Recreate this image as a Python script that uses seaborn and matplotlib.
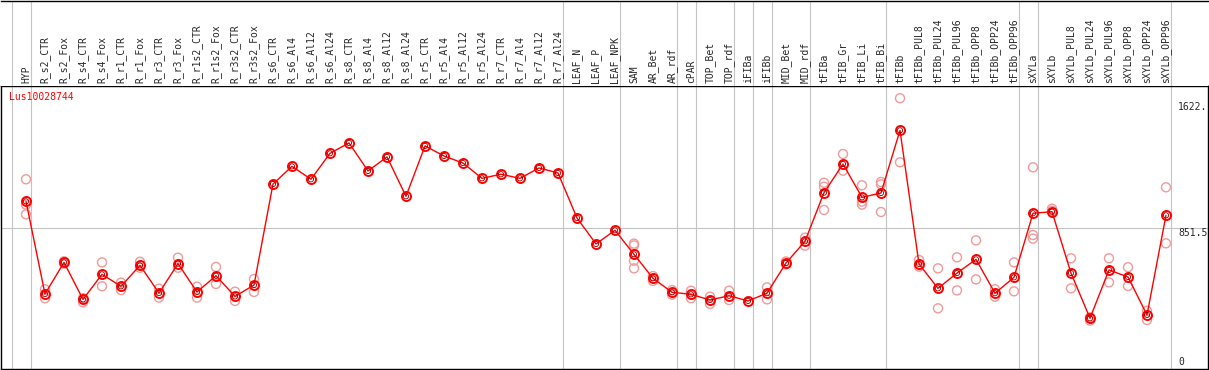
import numpy as np
import pandas as pd
import matplotlib
matplotlib.use("Agg")
import matplotlib.pyplot as plt
import seaborn as sns

# sample names along the top
categories = [
    "HYP", "R_s2_CTR", "R_s2_Fox", "R_s4_CTR", "R_s4_Fox", "R_r1_CTR", "R_r1_Fox",
    "R_r3_CTR", "R_r3_Fox", "R_r1s2_CTR", "R_r1s2_Fox", "R_r3s2_CTR", "R_r3s2_Fox",
    "R_s6_CTR", "R_s6_Al4", "R_s6_Al12", "R_s6_Al24", "R_s8_CTR", "R_s8_Al4",
    "R_s8_Al12", "R_s8_Al24", "R_r5_CTR", "R_r5_Al4", "R_r5_Al12", "R_r5_Al24",
    "R_r7_CTR", "R_r7_Al4", "R_r7_Al12", "R_r7_Al24", "LEAF_N", "LEAF_P", "LEAF_NPK",
    "SAM", "AR_Bet", "AR_rdf", "cPAR", "TOP_Bet", "TOP_rdf", "iFIBa", "iFIBb",
    "MID_Bet", "MID_rdf", "tFIBa", "tFIB_Gr", "tFIB_Li", "tFIB_Bi", "tFIBb",
    "tFIBb_PUL8", "tFIBb_PUL24", "tFIBb_PUL96", "tFIBb_OPP8", "tFIBb_OPP24",
    "tFIBb_OPP96", "sXYLa", "sXYLb", "sXYLb_PUL8", "sXYLb_PUL24", "sXYLb_PUL96",
    "sXYLb_OPP8", "sXYLb_OPP24", "sXYLb_OPP96"]

# mean expression per sample
means = [1021, 432, 633, 398, 557, 481, 614, 438, 625, 445, 548, 417, 489,
         1131, 1243, 1161, 1326, 1392, 1214, 1303, 1053, 1373, 1309, 1264, 1167,
         1193, 1167, 1233, 1201, 915, 750, 837,
         684, 532, 443, 430, 394, 421, 388, 437, 629, 767,
         1076, 1258, 1046, 1074, 1472,
         623, 468, 565, 652, 437, 538,
         945, 955, 565, 278, 585, 540, 299, 932]

# replicate values (same order as categories)
replicates = [
    [1161, 1000, 938], [462, 405], [640, 625], [405, 379], [633, 481], [504, 457],
    [637, 599], [466, 409], [663, 599], [479, 409], [604, 496], [447, 388], [527, 445],
    [], [], [], [], [], [], [], [], [], [], [], [], [], [], [], [],
    [], [], [],
    [752, 741, 644, 595], [546, 515], [457, 428], [453, 405], [415, 369], [453, 394],
    [], [474, 398], [639, 620], [790, 739],
    [1139, 1114, 966], [1322, 1216], [1123, 1019, 1000], [1144, 1129, 953], [1676, 1269],
    [648, 606], [595, 341], [665, 455], [773, 525], [462, 415], [633, 449],
    [1237, 807, 784], [974, 961], [659, 468], [284, 263], [659, 506], [602, 483],
    [326, 267], [1110, 754]]

# group separators come after these sample indices
group_ends = [-1, 0, 28, 31, 34, 35, 37, 38, 39, 41, 45, 52, 53, 60]
gene = "Lus10028744"
yticks = [0, 851.5, 1622]
ytick_labels = ["0", "851.5", "1622."]

sns.set_style("white")
plt.rcParams["font.family"] = ["DejaVu Sans Mono"]

W, H = 1209, 370
fig = plt.figure(figsize=(W / 100, H / 100), dpi=100)

def px_x(p):
    return (p - 26) / 19.0

def px_y(p):
    return (362 - p) * 6.354

xlim = (px_x(1), px_x(1208))
ax = fig.add_axes([1 / W, 1 / H, 1207 / W, 283 / H])
axh = fig.add_axes([1 / W, 284 / H, 1207 / W, 85.5 / H])

grid_c = "#c4c4c4"
for a in (ax, axh):
    a.set_xlim(*xlim)
    a.set_xticks([])
    a.set_yticks([])
    for b in group_ends:
        a.axvline(b + 0.26, color=grid_c, lw=0.8, zorder=0)
    for s in a.spines.values():
        s.set_color("black")
        s.set_linewidth(1.0)

axh.set_ylim(0, 1)
axh.spines["left"].set_visible(False)
axh.spines["right"].set_visible(False)
axh.spines["bottom"].set_visible(False)
for i, name in enumerate(categories):
    axh.text(i, 0.03, name, rotation=90, ha="center", va="bottom", fontsize=7)

ax.set_ylim(px_y(369), px_y(86))
ax.axhline(851.5, color=grid_c, lw=0.8, zorder=0)

xs = np.arange(len(categories))
rep_df = pd.DataFrame([(i, v) for i, vals in enumerate(replicates) for v in vals],
                      columns=["x", "value"])
sns.scatterplot(data=rep_df, x="x", y="value", ax=ax, marker="o", s=42,
                facecolors="none", edgecolor="#f09a9a", linewidth=1.0, zorder=2)

mean_df = pd.DataFrame({"x": xs, "value": means})
sns.lineplot(data=mean_df, x="x", y="value", ax=ax, color="red", lw=1.0,
             marker="o", markersize=6.5, markerfacecolor="none",
             markeredgecolor="red", markeredgewidth=1.4, zorder=3)
sns.scatterplot(data=mean_df, x="x", y="value", ax=ax, marker="o", s=14,
                facecolors="none", edgecolor="#900000", linewidth=0.6, zorder=4)
ax.set_xlabel("")
ax.set_ylabel("")
ax.set_xlim(*xlim)

ax.text(px_x(9), px_y(97), gene, color="red", fontsize=7, ha="left", va="center")
for v, lab in zip(yticks, ytick_labels):
    va = "top" if v == 851.5 else "center"
    ax.text(px_x(1178), v, lab, fontsize=7, ha="left", va=va)

fig.savefig("out.png", dpi=100)
